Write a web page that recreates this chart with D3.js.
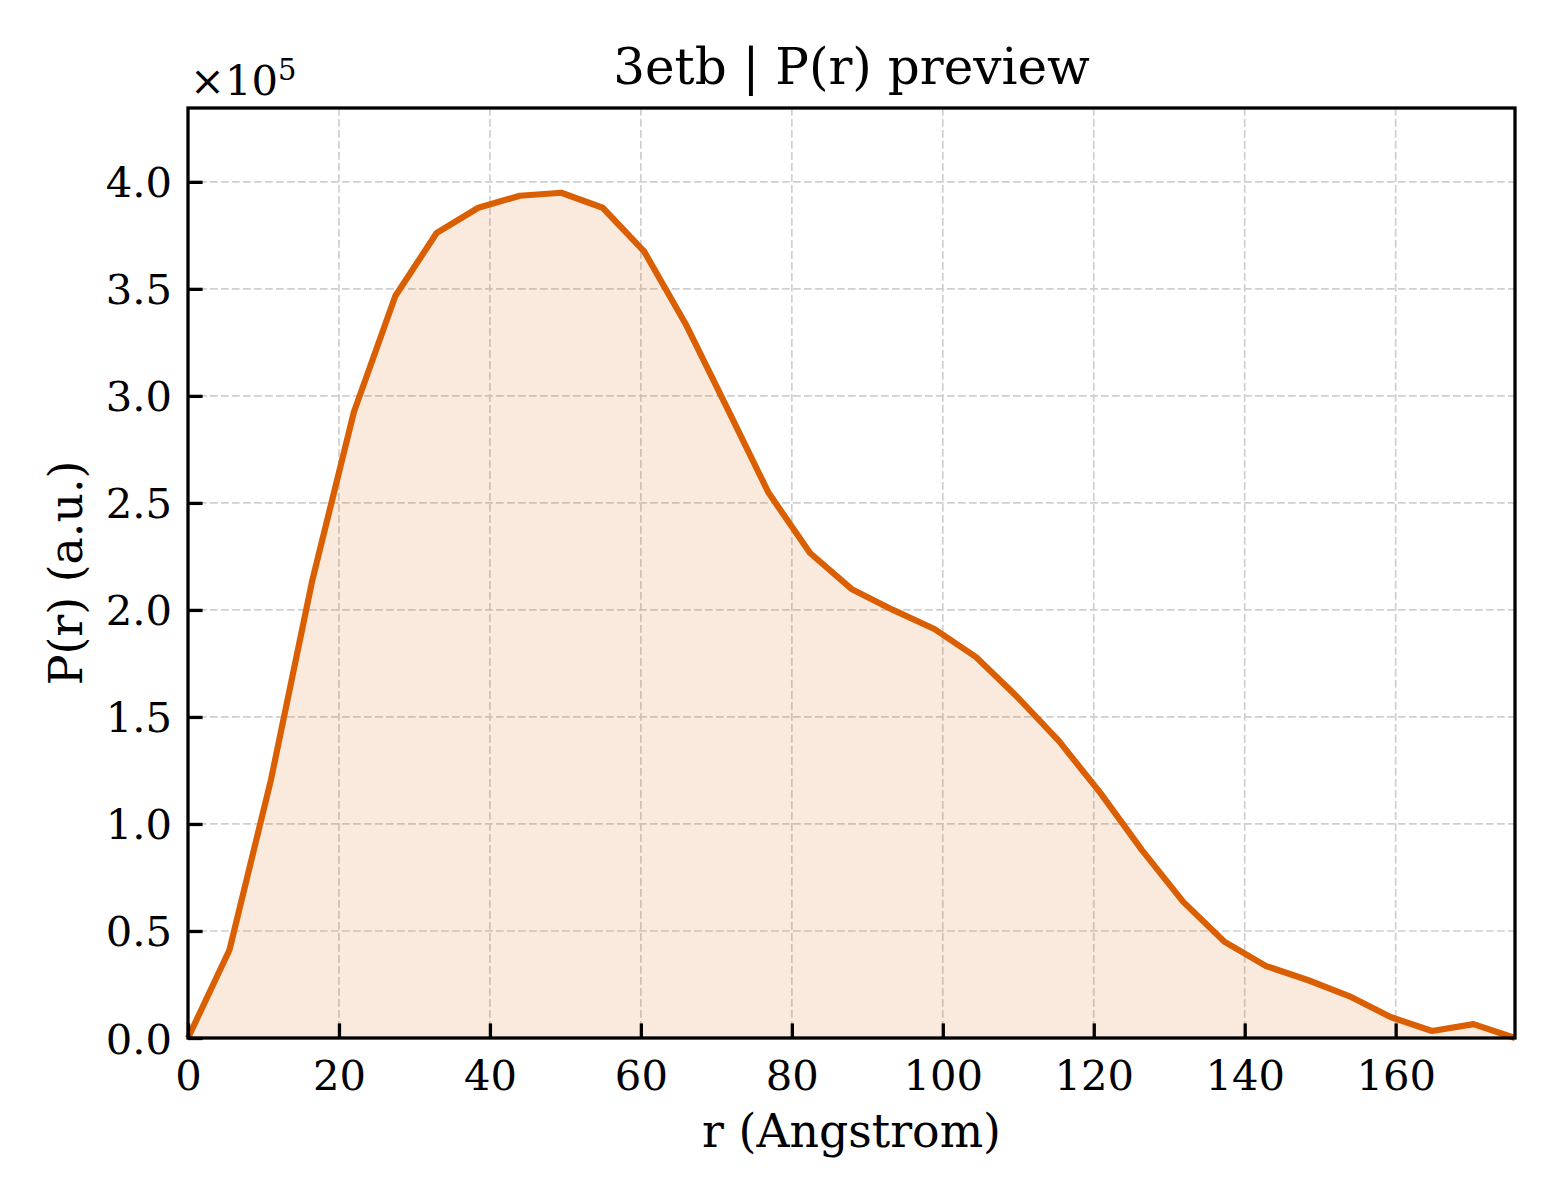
<!DOCTYPE html>
<html>
<head>
<meta charset="utf-8">
<script src="https://cdn.jsdelivr.net/npm/d3@7/dist/d3.min.js"></script>
<style>
  html, body { margin: 0; padding: 0; background: #fff; }
  svg { display: block; }
  text { font-family: "DejaVu Serif", serif; fill: #000; }
</style>
</head>
<body>
<svg id="chart" width="1560" height="1200"></svg>
<script>
// ---- data ----
const title = "3etb | P(r) preview";
const xLabel = "r (Angstrom)";
const yLabel = "P(r) (a.u.)";
const rValues = [0, 5.49, 10.99, 16.48, 21.98, 27.47, 32.96, 38.46, 43.95, 49.45,
  54.94, 60.43, 65.93, 71.42, 76.92, 82.41, 87.90, 93.40, 98.89, 104.39,
  109.88, 115.37, 120.87, 126.36, 131.86, 137.35, 142.84, 148.34, 153.83, 159.33,
  164.82, 170.31, 175.81];
const prValues = [0, 41100, 120600, 214000, 292500, 346700, 376200, 387900, 393500, 394900,
  387900, 367500, 333600, 294400, 254700, 226600, 209800, 200000, 191100, 178000,
  159300, 138800, 114500, 87900, 63600, 44900, 33600, 27100, 19600, 9800,
  3300, 6500, 0];
const xTicks = [0, 20, 40, 60, 80, 100, 120, 140, 160];
const yTicks = [0, 50000, 100000, 150000, 200000, 250000, 300000, 350000, 400000];
const xMax = 175.81;
const yMax = 434500;

// ---- layout ----
const svg = d3.select("#chart");
const L = 188, R = 1515, T = 108, B = 1038;
const color = "#d95f02";

const x = d3.scaleLinear().domain([0, xMax]).range([L, R]);
const y = d3.scaleLinear().domain([0, yMax]).range([B, T]);

const data = rValues.map((r, i) => ({ r, p: prValues[i] }));

// grid
const grid = svg.append("g");
grid.selectAll("line.gx").data(xTicks.filter(t => t > 0)).join("line")
  .attr("x1", d => x(d)).attr("x2", d => x(d)).attr("y1", T).attr("y2", B)
  .attr("stroke", "#cfcfcf").attr("stroke-width", 1.7).attr("stroke-dasharray", "7.7,3.3");
grid.selectAll("line.gy").data(yTicks.filter(t => t > 0)).join("line")
  .attr("y1", d => y(d)).attr("y2", d => y(d)).attr("x1", L).attr("x2", R)
  .attr("stroke", "#cfcfcf").attr("stroke-width", 1.7).attr("stroke-dasharray", "7.7,3.3");

// area
svg.append("path").datum(data)
  .attr("d", d3.area().x(d => x(d.r)).y0(y(0)).y1(d => y(d.p)))
  .attr("fill", color).attr("fill-opacity", 0.13);

// line
svg.append("path").datum(data)
  .attr("d", d3.line().x(d => x(d.r)).y(d => y(d.p)))
  .attr("fill", "none").attr("stroke", color).attr("stroke-width", 6.2)
  .attr("stroke-linejoin", "round");

// axes
const xAxis = d3.axisBottom(x).tickValues(xTicks).tickFormat(d3.format("d"))
  .tickSizeInner(-14.6).tickSizeOuter(0).tickPadding(22);
const gx = svg.append("g").attr("transform", `translate(0,${B})`).call(xAxis);
const yAxis = d3.axisLeft(y).tickValues(yTicks).tickFormat(d => (d / 1e5).toFixed(1))
  .tickSizeInner(-14.6).tickSizeOuter(0).tickPadding(16);
const gy = svg.append("g").attr("transform", `translate(${L},0)`).call(yAxis);
[gx, gy].forEach(g => {
  g.select(".domain").remove();
  g.selectAll(".tick line").attr("stroke", "#000").attr("stroke-width", 3.3);
  g.selectAll(".tick text").style("font-family", "DejaVu Serif").style("font-size", "41.7px").attr("fill", "#000");
});
gx.selectAll(".tick text").attr("dy", "0.71em");
gy.selectAll(".tick text").attr("dy", "0.36em");

// frame
svg.append("rect").attr("x", L).attr("y", T).attr("width", R - L).attr("height", B - T)
  .attr("fill", "none").attr("stroke", "#000").attr("stroke-width", 3.3);

// offset text
const off = svg.append("text").attr("x", 190).attr("y", 95).style("font-size", "41.7px");
off.append("tspan").text("×10");
off.append("tspan").text("5").style("font-size", "29px").attr("dy", "-15");

// title
svg.append("text").attr("x", (L + R) / 2).attr("y", 84).attr("text-anchor", "middle")
  .style("font-size", "50px").text(title);

// axis labels
svg.append("text").attr("x", (L + R) / 2).attr("y", 1147).attr("text-anchor", "middle")
  .style("font-size", "45.8px").text(xLabel);
svg.append("text").attr("transform", `translate(82,${(T + B) / 2}) rotate(-90)`)
  .attr("text-anchor", "middle").style("font-size", "45.8px").text(yLabel);
</script>
</body>
</html>
